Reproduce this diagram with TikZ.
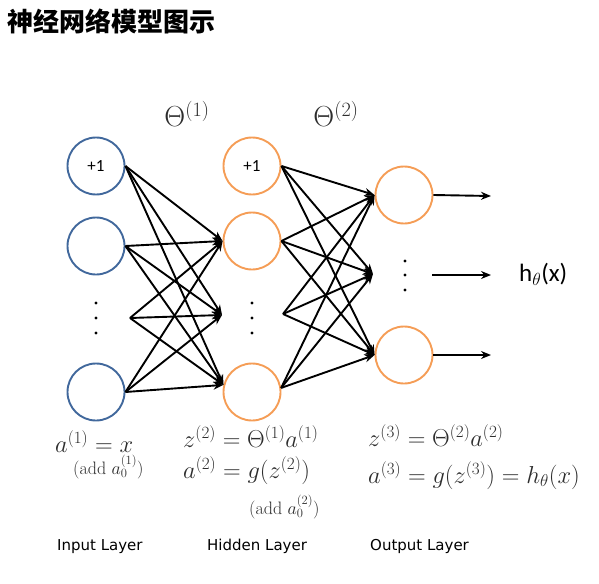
\RequirePackage{fix-cm}
\documentclass[tikz,border=0pt]{standalone}
\usepackage{fontspec}
\newfontfamily\cjk{Noto Sans CJK SC}
\newfontfamily\calib{Carlito}
\newfontfamily\verd{DejaVu Sans}
\usetikzlibrary{arrows.meta}
\definecolor{nnblue}{RGB}{65,104,156}
\definecolor{nnorange}{RGB}{245,157,86}
\definecolor{txtgray}{RGB}{45,45,45}
\begin{document}
\begin{tikzpicture}[x=1pt,y=-1pt,
  neuron/.style={circle,line width=1.9pt,minimum size=57pt,inner sep=0pt,font=\calib\fontsize{17}{18}\selectfont},
  inneuron/.style={neuron,draw=nnblue},
  hidneuron/.style={neuron,draw=nnorange},
  wire/.style={line width=1.9pt,-{Stealth[length=10pt,width=8pt]}},
  dotmark/.style={circle,fill=black,inner sep=0pt,minimum size=3.4pt},
  formula/.style={inner sep=0pt,anchor=base west,text=txtgray,font=\fontsize{24.5}{28}\selectfont},
  smallformula/.style={inner sep=0pt,anchor=base west,text=txtgray,font=\fontsize{18}{20}\selectfont},
  thetalabel/.style={inner sep=0pt,text=txtgray,font=\fontsize{29}{32}\selectfont},
  layerlabel/.style={inner sep=0pt,anchor=base west,font=\verd\fontsize{15}{17}\selectfont}
]
\useasboundingbox (0,0) rectangle (599,583);
% title
\node[inner sep=0pt,anchor=base west,font=\cjk\bfseries\fontsize{26}{28}\selectfont] (title) at (7,32) {神经网络模型图示};
% input layer
\node[inneuron] (i1) at (96,166) {+1};
\node[inneuron] (i2) at (96,246) {};
\node[inneuron] (i3) at (96,392) {};
\node[dotmark] (id1) at (96,303) {};
\node[dotmark] (id2) at (96,318) {};
\node[dotmark] (id3) at (96,333) {};
\coordinate (is) at (130,318);
% hidden layer
\node[hidneuron] (h1) at (252,166) {+1};
\node[hidneuron] (h2) at (252,241) {};
\node[hidneuron] (h3) at (252,392) {};
\node[dotmark] (hd1) at (252,303) {};
\node[dotmark] (hd2) at (252,318) {};
\node[dotmark] (hd3) at (252,333) {};
\coordinate (ht) at (222,315);
\coordinate (hs) at (283,314);
% output layer
\node[hidneuron] (o1) at (404,195) {};
\node[hidneuron] (o2) at (404,355) {};
\node[dotmark] (od1) at (405,261) {};
\node[dotmark] (od2) at (405,275) {};
\node[dotmark] (od3) at (405,290) {};
\coordinate (ot) at (373,274);
\coordinate (os) at (432,275);
\coordinate (oe1) at (491,196);
\coordinate (oe2) at (491,275);
\coordinate (oe3) at (491,355);
% input -> hidden
\foreach \s in {i1.east,i2.east,is,i3.east}
  \foreach \t in {h2.west,ht,h3.166}
    \draw[wire] (\s) -- (\t);
% hidden -> output
\foreach \s in {h1.east,h2.east,hs,h3.8}
  \foreach \t in {o1.west,ot,o2.west}
    \draw[wire] (\s) -- (\t);
% outputs
\draw[wire] (o1.east) -- (oe1);
\draw[wire] (os) -- (oe2);
\draw[wire] (o2.east) -- (oe3);
\node[inner sep=0pt,anchor=west,font=\calib\fontsize{25}{27}\selectfont] (hx) at (519,274) {h$_\theta$(x)};
% theta labels
\node[thetalabel] (th1) at (187,114) {$\Theta^{(1)}$};
\node[thetalabel] (th2) at (336,114) {$\Theta^{(2)}$};
% formulas
\node[formula] (f1) at (55,452) {$a^{(1)}=x$};
\node[smallformula] (f1b) at (73,474) {(add $a_0^{(1)}$)};
\node[formula] (f2) at (183,447) {$z^{(2)}=\Theta^{(1)}a^{(1)}$};
\node[formula] (f3) at (183,478) {$a^{(2)}=g(z^{(2)})$};
\node[smallformula] (f3b) at (249,514) {(add $a_0^{(2)}$)};
\node[formula] (f4) at (368,446) {$z^{(3)}=\Theta^{(2)}a^{(2)}$};
\node[formula] (f5) at (368,483) {$a^{(3)}=g(z^{(3)})=h_\theta(x)$};
% layer labels
\node[layerlabel] (l1) at (57,550) {Input Layer};
\node[layerlabel] (l2) at (207,550) {Hidden Layer};
\node[layerlabel] (l3) at (370,550) {Output Layer};
\end{tikzpicture}
\end{document}
